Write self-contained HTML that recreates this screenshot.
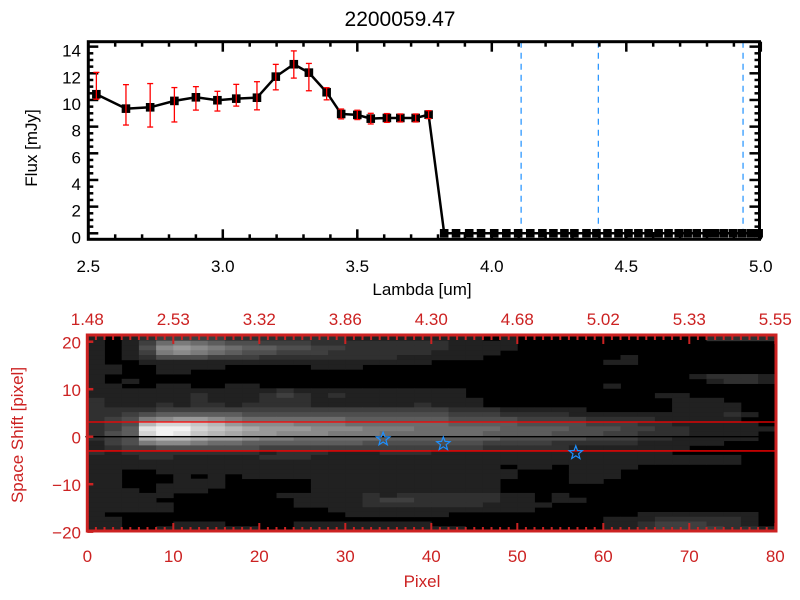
<!DOCTYPE html>
<html><head><meta charset="utf-8"><style>
html,body{margin:0;padding:0;background:#fff;}
svg{display:block;font-family:"Liberation Sans",sans-serif;}
</style></head><body>
<svg id="chart" width="800" height="600" viewBox="0 0 800 600">
<rect x="0" y="0" width="800" height="600" fill="#fff"/>
<text x="400" y="26" font-size="21" text-anchor="middle">2200059.47</text>
<g id="top"></g>
<g id="bot"></g>
</svg>
<script>
// ---- Spectrum data ----
const lambda = [2.53,2.64,2.73,2.82,2.90,2.98,3.05,3.127,3.197,3.264,3.32,3.386,3.44,3.50,3.55,3.61,3.66,3.717,3.765];
const flux =   [10.43,9.35,9.45,9.93,10.2,9.98,10.1,10.17,11.75,12.68,12.05,10.58,8.95,8.88,8.6,8.65,8.65,8.65,8.9];
const errHi =  [1.64,1.8,1.78,1.0,0.8,0.67,1.07,1.2,0.92,1.0,0.69,0.34,0.37,0.35,0.4,0.33,0.3,0.3,0.3];
const errLo =  [0.37,1.23,1.48,1.58,0.96,0.81,0.56,0.91,0.99,1.04,1.36,0.57,0.37,0.35,0.4,0.33,0.3,0.3,0.3];
const lambdaZero = [3.823,3.867,3.916,3.960,4.009,4.054,4.098,4.143,4.188,4.229,4.270,4.307,4.352,4.389,4.430,4.471,4.508,4.545,4.583,4.620,4.657,4.695,4.728,4.762,4.799,4.829,4.862,4.896,4.929,4.962,4.992];
const vLines = [4.109,4.396,4.934];
const xTicks = [2.5,3.0,3.5,4.0,4.5,5.0];
const yTicks = [0,2,4,6,8,10,12,14];
// ---- Image data ----
const topLabels = ["1.48","2.53","3.32","3.86","4.30","4.68","5.02","5.33","5.55"];
const pixTicks = [0,10,20,30,40,50,60,70,80];
const shiftTicks = [20,10,0,-10,-20];
const starPix = [34.4,41.4,56.8];
const starShift = [-0.5,-1.5,-3.4];
const heatRows = [
"1012333322222221111111101000000000002222",
"1013676544333222222221111000000000000000",
"1014898765544332222221111000000000000000",
"1013787654433322222211110000000000000000",
"1012444333222222221111100000000100000000",
"1001111111111111111100000000001100000000",
"1100111100000111000000000000000000000000",
"1100110000000000000000000000000000000000",
"1000000000000000000000000000000000012221",
"1010000000000000000000000000000000001221",
"1100110011000000000000000000001000000000",
"1111111111121111111111000000000000000000",
"1111112111232121111111000000000001100000",
"2111112111222111111111100000000000111000",
"2111212212222111111211100000000000111100",
"2222333333333333333332221111100000111100",
"2234555554444444444443332222111111111210",
"2347899876666665555554444333322221111100",
"234bddcb98887776666665555444433322111110",
"235effdcba999888777666665555444332211111",
"245dfecba9988877766666655554443322211110",
"234abba998776666655555554444433322111110",
"1347887665555555444444433332222211111000",
"1233444444333333333333322222111111100000",
"2122222222122211122211111111111111000000",
"1112211111222111111111111111111111111100",
"1111111111111111111111111111111111111100",
"1111111111111111111111110110111100000000",
"1100111111111111111111111000111000000000",
"1100010101111111111111111000111000000000",
"1100011100000111111111110000110000000000",
"1100111100000111111111110000000000000000",
"1110111000000111111111110000000000000000",
"1111100000011111212222221101000000000000",
"1111000000001111233222221101100000000000",
"1111100000001111222222211110000000000000",
"1111100000000011111111111100000000000000",
"1000000000000001111110000000000011111110",
"1100000000000000000000000000001112222210",
"1100011100001111111100000000001123332210",
"1100111111001111111111000000001123333221"
];
const NS="http://www.w3.org/2000/svg";
function mk(parent,tag,attrs){const e=document.createElementNS(NS,tag);for(const k in attrs)e.setAttribute(k,attrs[k]);parent.appendChild(e);return e;}
// ---------- top chart ----------
const T=document.getElementById('top');
const X0=88.3,XS=269,Y0=233.3,YS=13.333;
const xs=v=>X0+(v-2.5)*XS, ys=v=>Y0-v*YS;
const L=88.3,R=759.5,TOP=41.7,BOT=239.3;
// vertical dashed
vLines.forEach((v,i)=>{const l=mk(T,'line',{x1:xs(v),x2:xs(v),y1:TOP,y2:BOT,stroke:'#1e90ff','stroke-width':1.2,'stroke-dasharray':'6,5'});

});
// ticks
for(let v=2.5;v<=5.001;v+=0.1){const maj=Math.abs(v*2-Math.round(v*2))<0.01;const len=maj?10:5;
mk(T,'line',{x1:xs(v),x2:xs(v),y1:BOT,y2:BOT-len,stroke:'#000','stroke-width':2.5});
mk(T,'line',{x1:xs(v),x2:xs(v),y1:TOP,y2:TOP+len,stroke:'#000','stroke-width':2.5});}
for(let v=0;v<=14.01;v+=0.5){const maj=Math.abs(v/2-Math.round(v/2))<0.01;const len=maj?10:5;
mk(T,'line',{x1:L,x2:L+len,y1:ys(v),y2:ys(v),stroke:'#000','stroke-width':2.5});
mk(T,'line',{x1:R,x2:R-len,y1:ys(v),y2:ys(v),stroke:'#000','stroke-width':2.5});}
const box=mk(T,'rect',{x:L,y:TOP,width:R-L,height:BOT-TOP,fill:'none',stroke:'#000','stroke-width':3});


xTicks.forEach(v=>{const t=mk(T,'text',{x:xs(v),y:272,'font-size':17,'text-anchor':'middle'});t.textContent=v.toFixed(1);

});
yTicks.forEach(v=>{const t=mk(T,'text',{x:81,y:ys(v)+10,'font-size':17,'text-anchor':'end'});t.textContent=String(v);

});
let t1=mk(T,'text',{x:422,y:295,'font-size':17,'text-anchor':'middle'});t1.textContent='Lambda [um]';


let t2=mk(T,'text',{x:0,y:0,'font-size':17,'text-anchor':'middle',transform:'translate(37,148) rotate(-90)'});t2.textContent='Flux [mJy]';


// red zero line
const zl=mk(T,'line',{x1:xs(lambdaZero[0]),x2:R,y1:ys(0),y2:ys(0),stroke:'#f00','stroke-width':1.2,'stroke-dasharray':'5,5'});


// line
const allX=lambda.concat(lambdaZero), allY=flux.concat(lambdaZero.map(()=>0));
const pts=allX.map((v,i)=>xs(v)+','+ys(allY[i])).join(' ');
const pl=mk(T,'polyline',{points:pts,fill:'none',stroke:'#000','stroke-width':2.5});


allX.forEach((v,i)=>{const x=xs(v),y=ys(allY[i]);
const s=mk(T,'rect',{x:x-4.3,y:y-4.3,width:8.6,height:8.6,fill:'#000'});

});
lambda.forEach((v,i)=>{const x=xs(v),y1=ys(flux[i]+errHi[i]),y2=ys(flux[i]-errLo[i]);
const g=mk(T,'g',{stroke:'#f00','stroke-width':1.3});


mk(g,'line',{x1:x,x2:x,y1:y1,y2:y2});mk(g,'line',{x1:x-3,x2:x+3,y1:y1,y2:y1});mk(g,'line',{x1:x-3,x2:x+3,y1:y2,y2:y2});});
// ---------- bottom image ----------
const B=document.getElementById('bot');
const RED='#cc2222';
const PX0=87.3,PXS=8.6, IY0=336, IY1=531;
const px=p=>PX0+p*PXS, py=v=>436.7-v*4.75;
const rows=heatRows.length, cols=40, cw=(px(80)-px(0))/cols, ch=(IY1-IY0)/rows;
const hm=mk(B,'g',{});


mk(hm,'rect',{x:px(0),y:IY0,width:px(80)-px(0),height:IY1-IY0,fill:'#000'});
heatRows.forEach((row,r)=>{for(let c=0;c<cols;c++){const v=parseInt(row[c]||'0',16);if(!v)continue;const g=18+v*15;
const cell=mk(hm,'rect',{x:px(0)+c*cw,y:IY0+r*ch,width:cw+0.4,height:ch+0.4,fill:`rgb(${g},${g},${g})`});

}});
// aperture lines
[3.1,-3.0].forEach(v=>{const l=mk(B,'line',{x1:px(0),x2:776,y1:py(v),y2:py(v),stroke:'#f00','stroke-width':1.3});

});
const cl=mk(B,'line',{x1:px(0)-2,x2:776,y1:py(0),y2:py(0),stroke:'#000','stroke-width':1.3});


// stars
function starPts(cx,cy,r){let a=[];for(let k=0;k<10;k++){const rr=k%2?r*0.42:r;const an=-Math.PI/2+k*Math.PI/5;a.push((cx+rr*Math.cos(an)).toFixed(1)+','+(cy+rr*Math.sin(an)).toFixed(1));}return a.join(' ');}
starPix.forEach((p,i)=>{const s=mk(B,'polygon',{points:starPts(px(p),py(starShift[i]),7),fill:'none',stroke:'#1e90ff','stroke-width':1.2});

});
// ticks
for(let p=0;p<=80;p++){const maj=p%10===0;const len=maj?8:4;
mk(B,'line',{x1:px(p),x2:px(p),y1:IY1,y2:IY1-len,stroke:RED,'stroke-width':2});
mk(B,'line',{x1:px(p),x2:px(p),y1:IY0,y2:IY0+len,stroke:RED,'stroke-width':2});}
shiftTicks.forEach(v=>{mk(B,'line',{x1:px(0),x2:px(0)+6,y1:py(v),y2:py(v),stroke:RED,'stroke-width':2.5});});
const bb=mk(B,'rect',{x:px(0),y:IY0-1,width:776-px(0),height:IY1-IY0+1,fill:'none',stroke:RED,'stroke-width':3});


pixTicks.forEach((p,i)=>{const t=mk(B,'text',{x:px(p),y:562,'font-size':17,'text-anchor':'middle',fill:RED});t.textContent=String(p);


const u=mk(B,'text',{x:px(p),y:325,'font-size':17,'text-anchor':'middle',fill:RED});u.textContent=topLabels[i];

});
shiftTicks.forEach(v=>{const t=mk(B,'text',{x:81,y:py(v)+7,'font-size':17,'text-anchor':'end',fill:RED});t.textContent=v<0?'\u2212'+(-v):String(v);

});
let t3=mk(B,'text',{x:422,y:587,'font-size':17,'text-anchor':'middle',fill:RED});t3.textContent='Pixel';


let t4=mk(B,'text',{x:0,y:0,'font-size':17,'text-anchor':'middle',fill:RED,transform:'translate(23,435) rotate(-90)'});t4.textContent='Space Shift [pixel]';


</script>
</body></html>
